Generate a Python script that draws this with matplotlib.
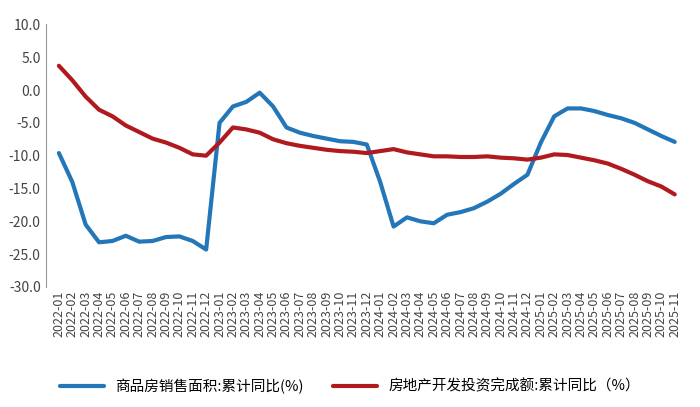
import matplotlib.pyplot as plt
import numpy as np

plt.rcParams["font.family"] = ["Noto Sans CJK SC", "DejaVu Sans"]

months = [f"{y}-{m:02d}" for y in range(2022, 2026) for m in range(1, 13)][:47]

sales_area = [
    -9.6, -14.0, -20.5, -23.2, -23.0, -22.2, -23.1, -23.0, -22.4, -22.3, -23.0, -24.3,
    -5.0, -2.5, -1.8, -0.4, -2.5, -5.7, -6.5, -7.0, -7.4, -7.8, -7.9, -8.3,
    -14.0, -20.8, -19.4, -20.0, -20.3, -19.0, -18.6, -18.0, -17.0, -15.8, -14.3, -12.9,
    -8.0, -4.0, -2.8, -2.8, -3.2, -3.8, -4.3, -5.0, -6.0, -7.0, -7.9,
]
invest = [
    3.7, 1.5, -1.0, -3.0, -4.0, -5.4, -6.4, -7.4, -8.0, -8.8, -9.8, -10.0,
    -8.0, -5.7, -6.0, -6.5, -7.5, -8.1, -8.5, -8.8, -9.1, -9.3, -9.4, -9.6,
    -9.3, -9.0, -9.5, -9.8, -10.1, -10.1, -10.2, -10.2, -10.1, -10.3, -10.4, -10.6,
    -10.3, -9.8, -9.9, -10.3, -10.7, -11.2, -12.0, -12.9, -13.9, -14.7, -15.9,
]

x = np.arange(len(months))
fig = plt.figure(figsize=(7, 4.07), dpi=100)
ax = fig.add_axes([0.065, 0.295, 0.918, 0.645])
ax.plot(x, sales_area, color="#2377b8", lw=3, solid_capstyle="round",
        solid_joinstyle="round", label="商品房销售面积:累计同比(%)")
ax.plot(x, invest, color="#b01a1f", lw=3, solid_capstyle="round",
        solid_joinstyle="round", label="房地产开发投资完成额:累计同比（%）")

ax.set_ylim(-30, 10)
ax.set_yticks(np.arange(-30, 10.1, 5))
ax.set_yticklabels([f"{v:.1f}" for v in np.arange(-30, 10.1, 5)], fontsize=10, color="#444444")
ax.set_xlim(-1, len(months))
ax.set_xticks(x)
ax.set_xticklabels(months, rotation=90, fontsize=9, color="#444444")
for s in ["top", "right", "bottom"]:
    ax.spines[s].set_visible(False)
ax.spines["left"].set_color("#999999")
ax.tick_params(axis="y", length=0)
ax.tick_params(axis="x", length=0, pad=3)

fig.legend(loc="lower center", ncol=2, frameon=False, fontsize=10.5,
           bbox_to_anchor=(0.5, 0.0), handlelength=3, columnspacing=2)
fig.savefig("out.png")
